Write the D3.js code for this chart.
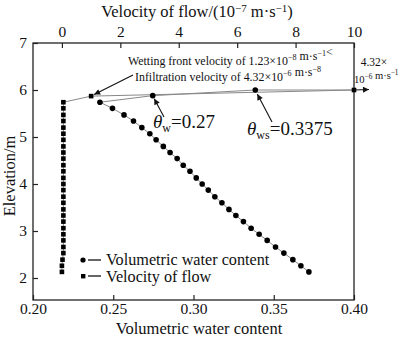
<!DOCTYPE html>
<html><head><meta charset="utf-8">
<script src="https://cdn.jsdelivr.net/npm/d3@7"></script>
<style>body{margin:0;background:#fff}svg{display:block}text{font-family:"Liberation Serif","Times New Roman",serif;fill:#111}</style>
</head><body><svg id="c" width="400" height="338"></svg>
<script>
// ---- data ----
const elevation = [5.74,5.61,5.47,5.34,5.20,5.07,4.94,4.80,4.67,4.54,4.40,4.27,4.13,4.00,3.87,3.73,3.60,3.46,3.33,3.20,3.06,2.93,2.80,2.66,2.53,2.39,2.26,2.13];
const waterContent = [0.2417,0.2495,0.2567,0.2626,0.2678,0.2728,0.2767,0.2812,0.2854,0.2898,0.2936,0.2978,0.3017,0.3054,0.3092,0.3133,0.3177,0.3221,0.3264,0.3311,0.3359,0.3409,0.3459,0.3511,0.3563,0.3619,0.3669,0.3719];
const velocity = [0.05,0.05,0.05,0.05,0.05,0.05,0.05,0.05,0.05,0.05,0.05,0.05,0.05,0.05,0.05,0.05,0.05,0.05,0.05,0.05,0.05,0.05,0.05,0.05,0.05,0.02,0.0,0.0];
// wetting-front points at the top of the profile
const wcTopX = [0.40,0.3385,0.2746];
const wcTopY = [6.0,6.0,5.88];
const velTopX = [10,1.0];
const velTopY = [6.0,5.87];
const wcTicks = [0.20,0.25,0.30,0.35,0.40];
const velTicks = [0,2,4,6,8,10];
const elevTicks = [2,3,4,5,6,7];

const svg = d3.select("#c");
const L=33, R=354, T=43, B=300;
const xWC = d3.scaleLinear().domain([0.20,0.40]).range([L,R]);
const xV = d3.scaleLinear().domain([-0.99,10]).range([L,R]);
const y = d3.scaleLinear().domain([1.532,7]).range([B,T]);

// axes
const fmt2 = d3.format(".2f");
const gB = svg.append("g").attr("transform",`translate(0,${B})`)
  .call(d3.axisBottom(xWC).tickValues(wcTicks).tickFormat(fmt2).tickSizeInner(-5).tickSizeOuter(0).tickPadding(3));
const gT = svg.append("g").attr("transform",`translate(0,${T})`)
  .call(d3.axisTop(xV).tickValues(velTicks).tickFormat(d3.format("d")).tickSizeInner(-5).tickSizeOuter(0).tickPadding(6));
const gL = svg.append("g").attr("transform",`translate(${L},0)`)
  .call(d3.axisLeft(y).tickValues(elevTicks).tickFormat(d3.format("d")).tickSizeInner(-5).tickSizeOuter(0).tickPadding(6));
[gB,gT,gL].forEach(g=>{
  g.select(".domain").remove();
  g.selectAll(".tick line").attr("stroke","#222").attr("stroke-width",1.2);
  g.selectAll(".tick text").attr("font-size",15.5).attr("font-family","Liberation Serif").attr("fill","#111");
});
svg.append("rect").attr("x",L).attr("y",T).attr("width",R-L).attr("height",B-T)
  .attr("fill","none").attr("stroke","#222").attr("stroke-width",1.3);

// titles
svg.append("text").attr("x",199).attr("y",334).attr("text-anchor","middle").attr("font-size",16.5).text("Volumetric water content");
svg.append("text").attr("transform","translate(15,176) rotate(-90)").attr("text-anchor","middle").attr("font-size",16.5).text("Elevation/m");
const tt = svg.append("text").attr("x",197).attr("y",17).attr("text-anchor","middle").attr("font-size",16.5);
tt.append("tspan").text("Velocity of flow/(10");
tt.append("tspan").attr("dy",-5).attr("font-size",11).text("\u22127");
tt.append("tspan").attr("dy",5).text(" m\u00b7s");
tt.append("tspan").attr("dy",-5).attr("font-size",11).text("\u22121");
tt.append("tspan").attr("dy",5).text(")");

// lines
const wcPts = wcTopX.map((v,i)=>[v,wcTopY[i]]).concat(waterContent.map((v,i)=>[v,elevation[i]]));
const vPts = velTopX.map((v,i)=>[v,velTopY[i]]).concat(velocity.map((v,i)=>[v,elevation[i]]));
svg.append("path").datum(wcPts).attr("fill","none").attr("stroke","#888").attr("stroke-width",1)
  .attr("d",d3.line().x(d=>xWC(d[0])).y(d=>y(d[1])));
svg.append("path").datum(vPts).attr("fill","none").attr("stroke","#888").attr("stroke-width",1)
  .attr("d",d3.line().x(d=>xV(d[0])).y(d=>y(d[1])));

// markers
svg.append("g").selectAll("circle").data(wcPts.filter(d=>d[0]<0.4)).join("circle")
  .attr("cx",d=>xWC(d[0])).attr("cy",d=>y(d[1])).attr("r",2.8).attr("fill","#000");
svg.append("g").selectAll("rect").data(vPts).join("rect")
  .attr("x",d=>xV(d[0])-2.3).attr("y",d=>y(d[1])-2.3).attr("width",4.6).attr("height",4.6).attr("fill","#000");

// arrows
const defs = svg.append("defs");
defs.append("marker").attr("id","ah").attr("viewBox","0 0 10 10").attr("refX",10).attr("refY",5)
  .attr("markerWidth",7).attr("markerHeight",6).attr("markerUnits","userSpaceOnUse").attr("orient","auto")
  .append("path").attr("d","M0,0L10,5L0,10z").attr("fill","#111");
function arrow(x1,y1,x2,y2){
  svg.append("line").attr("x1",x1).attr("y1",y1).attr("x2",x2).attr("y2",y2)
    .attr("stroke","#111").attr("stroke-width",1.1).attr("marker-end","url(#ah)");
}
const ve = [xV(velTopX[0]), y(velTopY[0])];
arrow(ve[0],ve[1],ve[0]+15,ve[1]-0.5);
arrow(133,75,xV(velTopX[1])+3,y(velTopY[1])-1.5);
arrow(164,117,xWC(wcTopX[2])+1.5,y(wcTopY[2])+3);
arrow(272,122,xWC(wcTopX[1])+2,y(wcTopY[1])+4);

// annotation texts
function supText(x,yy,size,parts,anchor){
  const t = svg.append("text").attr("x",x).attr("y",yy).attr("font-size",size).attr("text-anchor",anchor||"start");
  parts.forEach(p=>{
    if(p.sup){ t.append("tspan").attr("dy",-size*0.38).attr("font-size",size*0.68).text(p.sup);
               t.append("tspan").attr("dy",size*0.38).text(""); }
    else t.append("tspan").text(p.t);
  });
  return t;
}
supText(128,65,11.9,[{t:"Wetting front velocity of 1.23\u00d710"},{sup:"\u22128"},{t:" m\u00b7s"},{sup:"\u22121"},{t:"<"}]);
supText(135,81,11.9,[{t:"Infiltration velocity of 4.32\u00d710"},{sup:"\u22126"},{t:" m\u00b7s"},{sup:"\u22128"}]);
supText(374,66,11.5,[{t:"4.32\u00d7"}],"middle");
supText(354,83,10.6,[{t:"10"},{sup:"\u22126"},{t:" m\u00b7s"},{sup:"\u22121"}]);

function theta(x,yy,sub,val){
  const t = svg.append("text").attr("x",x).attr("y",yy).attr("font-size",19);
  t.append("tspan").attr("font-style","italic").text("\u03b8");
  t.append("tspan").attr("dy",4).attr("font-size",12).text(sub);
  t.append("tspan").attr("dy",-4).text("="+val);
}
theta(153,128,"w","0.27");
theta(247,135,"ws","0.3375");

// legend
const lg = svg.append("g");
lg.append("circle").attr("cx",83).attr("cy",260).attr("r",2.6).attr("fill","#000");
lg.append("line").attr("x1",88).attr("x2",101).attr("y1",260).attr("y2",260).attr("stroke","#111").attr("stroke-width",1.3);
lg.append("text").attr("x",106).attr("y",265).attr("font-size",16.2).text("Volumetric water content");
lg.append("rect").attr("x",81).attr("y",274).attr("width",4.4).attr("height",4.4).attr("fill","#000");
lg.append("line").attr("x1",88).attr("x2",101).attr("y1",276).attr("y2",276).attr("stroke","#111").attr("stroke-width",1.3);
lg.append("text").attr("x",106).attr("y",281.5).attr("font-size",16.2).text("Velocity of flow");
</script></body></html>
